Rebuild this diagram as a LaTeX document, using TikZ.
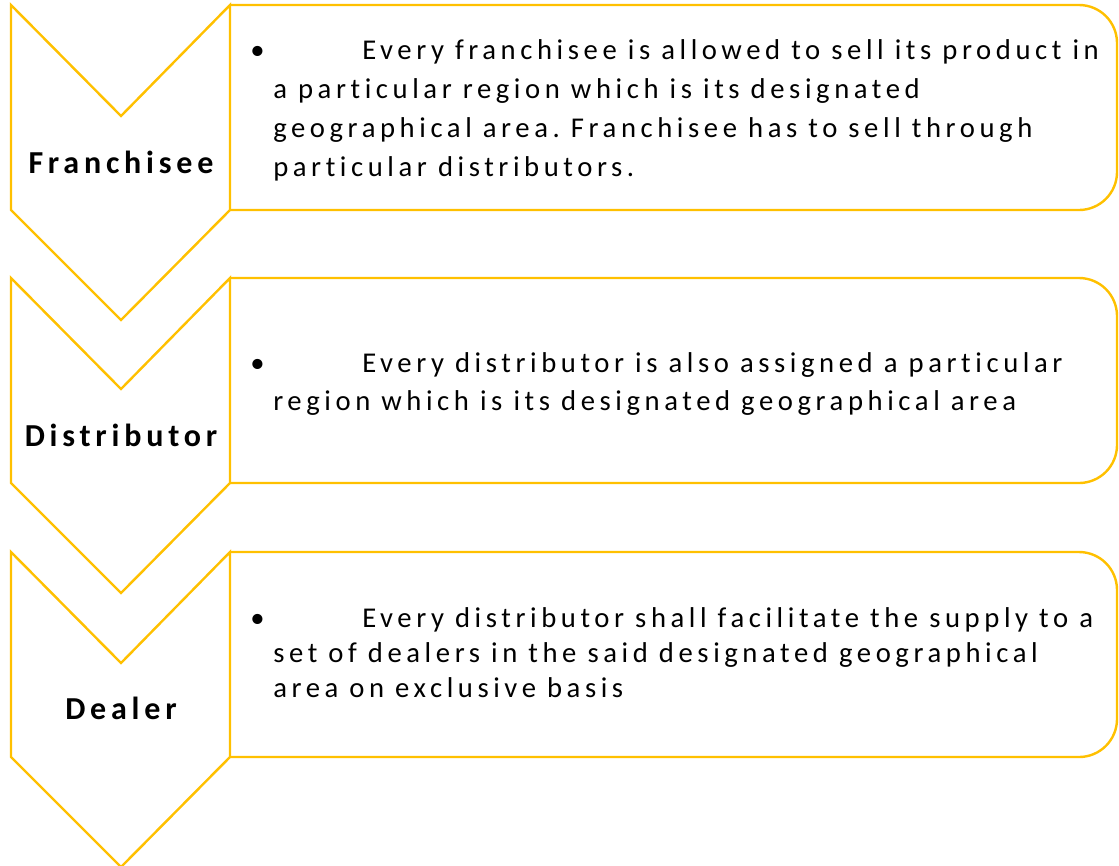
\documentclass[tikz,border=0pt]{standalone}
\usepackage{fontspec}
\setmainfont{Carlito}[LetterSpace=16,Ligatures=NoCommon]
\newfontfamily\labfont{Carlito}[LetterSpace=15,Ligatures=NoCommon]
\definecolor{gold}{HTML}{FFC000}
\frenchspacing
\begin{document}
\begin{tikzpicture}[x=0.75pt,y=-0.75pt,
  shapeline/.style={draw=gold,line width=1.8pt,line join=miter},
  txt/.style={anchor=base west,inner sep=0pt,font=\fontsize{21.5pt}{26pt}\selectfont},
  lab/.style={anchor=base,inner sep=0pt,font=\labfont\fontsize{24pt}{28pt}\selectfont\bfseries}]
\useasboundingbox (0,0) rectangle (1119,865);
\foreach \o in {0,273,547}{
  \draw[shapeline,rounded corners=28.5pt] (230,5+\o) -- (1117,5+\o) -- (1117,210+\o) -- (230,210+\o);
  \draw[shapeline] (11,5+\o) -- (121,116+\o) -- (230,5+\o) -- (230,210+\o) -- (121,320+\o) -- (11,210+\o) -- cycle;
}
\node[lab] (l1) at (121,173) {Franchisee};
\node[lab] (l2) at (121,446) {Distributor};
\node[lab] (l3) at (121,719) {Dealer};
\node[txt] (b1) at (250,59) {•};
\node[txt] (a1) at (362,59) {Every franchisee is allowed to sell its product in};
\node[txt] (a2) at (273,98) {a particular region which is its designated};
\node[txt] (a3) at (273,137) {geographical area. Franchisee has to sell through};
\node[txt] (a4) at (273,176) {particular distributors.};
\node[txt] (b2) at (250,372) {•};
\node[txt] (c1) at (362,372) {Every distributor is also assigned a particular};
\node[txt] (c2) at (273,410) {region which is its designated geographical area};
\node[txt] (b3) at (250,627) {•};
\node[txt] (d1) at (362,627) {Every distributor shall facilitate the supply to a};
\node[txt] (d2) at (273,662) {set of dealers in the said designated geographical};
\node[txt] (d3) at (273,697) {area on exclusive basis};
\end{tikzpicture}
\end{document}
